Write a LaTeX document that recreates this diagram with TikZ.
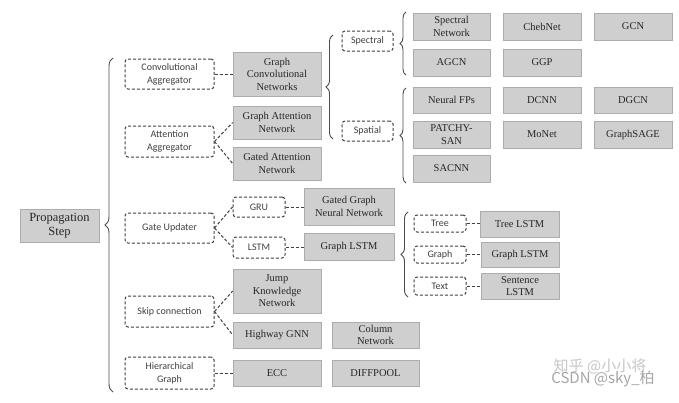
\documentclass[tikz,border=0pt]{standalone}
\usepackage{fontspec}
\setmainfont{Liberation Serif}
\newfontfamily\serfont{Liberation Serif}
\newfontfamily\calfont{Carlito}
\newfontfamily\cjkfont{Noto Sans CJK SC}
\usetikzlibrary{decorations.pathreplacing}
\begin{document}
\begin{tikzpicture}[x=1pt,y=-1pt,
  gbox/.style={draw=gray!65, fill=gray!38, text=black!85, align=center, inner sep=1pt,
    font=\serfont\fontsize{10.5}{12.5}\selectfont, line width=0.6pt},
  dbox/.style={draw=black!75, dashed, dash pattern=on 3pt off 2pt, rounded corners=3pt,
    text=black!75, align=center, inner sep=1pt, line width=1pt,
    font=\calfont\fontsize{10}{13}\selectfont},
  conn/.style={draw=black!75, dashed, dash pattern=on 3pt off 2pt, line width=1pt},
  brc/.style={draw=black!70, line width=0.9pt, decorate, decoration={brace, amplitude=#1}},
  brc/.default=7pt
]
\useasboundingbox[fill=white] (0,0) rectangle (679,402);

% main column
\node[gbox, minimum width=79pt, minimum height=33pt, font=\serfont\fontsize{12.5}{14}\selectfont] (prop) at (59.5,225.5) {Propagation\\Step};

% aggregator level
\node[dbox, minimum width=89pt, minimum height=30pt] (convagg) at (169.5,74) {Convolutional\\Aggregator};
\node[dbox, minimum width=89pt, minimum height=31pt] (attagg) at (169.5,141.5) {Attention\\Aggregator};
\node[dbox, minimum width=89pt, minimum height=30pt] (gateupd) at (169.5,228) {Gate Updater};
\node[dbox, minimum width=89pt, minimum height=31pt] (skip) at (169.5,311.5) {Skip connection};
\node[dbox, minimum width=89pt, minimum height=32pt] (hier) at (169.5,373) {Hierarchical\\Graph};

% second level
\node[gbox, minimum width=88pt, minimum height=44pt] (gcnets) at (277,74) {Graph\\Convolutional\\Networks};
\node[gbox, minimum width=88pt, minimum height=33pt] (gat) at (277,122.5) {Graph Attention\\Network};
\node[gbox, minimum width=88pt, minimum height=33pt] (gatedatt) at (277,163.5) {Gated Attention\\Network};
\node[dbox, minimum width=52pt, minimum height=20pt] (gru) at (259,207) {GRU};
\node[dbox, minimum width=52pt, minimum height=21pt] (lstm) at (259,247.5) {LSTM};
\node[gbox, minimum width=90pt, minimum height=37pt] (ggnn) at (349,206.5) {Gated Graph\\Neural Network};
\node[gbox, minimum width=90pt, minimum height=27pt] (glstm) at (349,246.5) {Graph LSTM};
\node[gbox, minimum width=88pt, minimum height=44pt] (jkn) at (277,291) {Jump\\Knowledge\\Network};
\node[gbox, minimum width=88pt, minimum height=26pt] (highway) at (277,335) {Highway GNN};
\node[gbox, minimum width=87pt, minimum height=26pt] (column) at (375.5,335) {Column\\Network};
\node[gbox, minimum width=88pt, minimum height=26pt] (ecc) at (277,373) {ECC};
\node[gbox, minimum width=87pt, minimum height=26pt] (diffpool) at (375.5,373) {DIFFPOOL};

% spectral / spatial
\node[dbox, minimum width=51pt, minimum height=20pt] (spectral) at (367.5,41) {Spectral};
\node[dbox, minimum width=51pt, minimum height=20pt] (spatial) at (367.5,131) {Spatial};

\node[gbox, minimum width=77pt, minimum height=27pt] (specnet) at (451.5,26.5) {Spectral\\Network};
\node[gbox, minimum width=78pt, minimum height=27pt] (chebnet) at (542,26.5) {ChebNet};
\node[gbox, minimum width=78pt, minimum height=27pt] (gcn) at (633,26.5) {GCN};
\node[gbox, minimum width=77pt, minimum height=27pt] (agcn) at (451.5,62.5) {AGCN};
\node[gbox, minimum width=78pt, minimum height=27pt] (ggp) at (542,62.5) {GGP};
\node[gbox, minimum width=77pt, minimum height=26pt] (nfp) at (451.5,100) {Neural FPs};
\node[gbox, minimum width=78pt, minimum height=26pt] (dcnn) at (542,100) {DCNN};
\node[gbox, minimum width=78pt, minimum height=26pt] (dgcn) at (633,100) {DGCN};
\node[gbox, minimum width=77pt, minimum height=27pt] (patchy) at (451.5,134.5) {PATCHY-\\SAN};
\node[gbox, minimum width=78pt, minimum height=27pt] (monet) at (542,134.5) {MoNet};
\node[gbox, minimum width=78pt, minimum height=27pt] (graphsage) at (633,134.5) {GraphSAGE};
\node[gbox, minimum width=77pt, minimum height=27pt] (sacnn) at (451.5,168.5) {SACNN};

% graph lstm variants
\node[dbox, minimum width=52pt, minimum height=17pt] (tree) at (440,223.5) {Tree};
\node[dbox, minimum width=52pt, minimum height=17pt] (graphd) at (440,254.5) {Graph};
\node[dbox, minimum width=52pt, minimum height=18pt] (text) at (440,286) {Text};
\node[gbox, minimum width=79pt, minimum height=26pt] (treelstm) at (519.5,224) {Tree LSTM};
\node[gbox, minimum width=78pt, minimum height=25pt] (graphlstm) at (520,254.5) {Graph LSTM};
\node[gbox, minimum width=78pt, minimum height=26pt] (sentlstm) at (520,286) {Sentence\\LSTM};

% connectors
\draw[conn] (convagg.east) -- (gcnets.west);
\draw[conn] (attagg.east) -- (gat.west);
\draw[conn] (attagg.east) -- (gatedatt.west);
\draw[conn] (gateupd.east) -- (gru.west);
\draw[conn] (gateupd.east) -- (lstm.west);
\draw[conn] (gru.east) -- (gru.east -| ggnn.west);
\draw[conn] (lstm.east) -- (lstm.east -| glstm.west);
\draw[conn] (skip.east) -- (jkn.west);
\draw[conn] (skip.east) -- (highway.west);
\draw[conn] (hier.east) -- (ecc.west);
\draw[conn] (tree.east) -- (tree.east -| treelstm.west);
\draw[conn] (graphd.east) -- (graphlstm.west);
\draw[conn] (text.east) -- (sentlstm.west);

% braces
\coordinate (b1s) at (113,392); \coordinate (b1e) at (113,58);
\draw[brc=8pt] (b1s) -- (b1e);
\coordinate (b2s) at (333,139); \coordinate (b2e) at (333,35);
\draw[brc=7pt] (b2s) -- (b2e);
\coordinate (b3s) at (406,75); \coordinate (b3e) at (406,12);
\draw[brc=6pt] (b3s) -- (b3e);
\coordinate (b4s) at (406,183); \coordinate (b4e) at (406,88);
\draw[brc=6pt] (b4s) -- (b4e);
\coordinate (b5s) at (408,297); \coordinate (b5e) at (408,212);
\draw[brc=7pt] (b5s) -- (b5e);

% watermark
\node[text=gray!45, font=\cjkfont\fontsize{15}{15}\selectfont, inner sep=0pt] (wm1) at (600,366) {知乎 @小小将};
\node[text=gray!70, font=\cjkfont\fontsize{15}{15}\selectfont, inner sep=0pt] (wm2) at (603,379) {CSDN @sky\_柏};
\end{tikzpicture}
\end{document}
